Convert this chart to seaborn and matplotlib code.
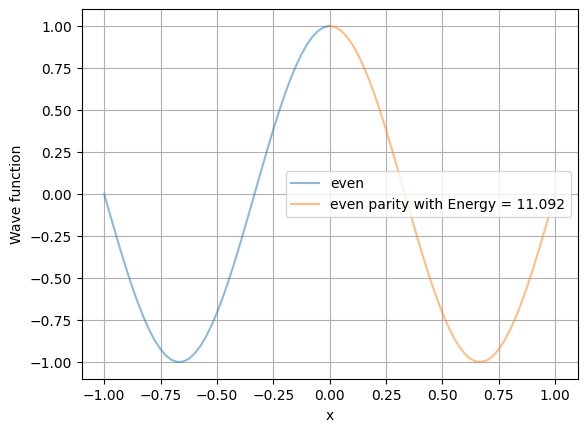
import numpy as np
import pandas as pd
import seaborn as sns
import matplotlib.pyplot as plt

# x grid for each half of the well
x_left = [-1.000, -0.975, -0.950, -0.925, -0.900, -0.875, -0.850, -0.825, -0.800, -0.775,
          -0.750, -0.725, -0.700, -0.675, -0.650, -0.625, -0.600, -0.575, -0.550, -0.525,
          -0.500, -0.475, -0.450, -0.425, -0.400, -0.375, -0.350, -0.325, -0.300, -0.275,
          -0.250, -0.225, -0.200, -0.175, -0.150, -0.125, -0.100, -0.075, -0.050, -0.025, 0.000]
x_right = [0.000, 0.025, 0.050, 0.075, 0.100, 0.125, 0.150, 0.175, 0.200, 0.225,
           0.250, 0.275, 0.300, 0.325, 0.350, 0.375, 0.400, 0.425, 0.450, 0.475,
           0.500, 0.525, 0.550, 0.575, 0.600, 0.625, 0.650, 0.675, 0.700, 0.725,
           0.750, 0.775, 0.800, 0.825, 0.850, 0.875, 0.900, 0.925, 0.950, 0.975, 1.000]

# wave function values
psi_left = [0.000, -0.118, -0.233, -0.346, -0.454, -0.556, -0.649, -0.734, -0.809, -0.873,
            -0.924, -0.963, -0.988, -0.999, -0.997, -0.981, -0.951, -0.908, -0.853, -0.785,
            -0.707, -0.619, -0.523, -0.419, -0.309, -0.195, -0.079, 0.039, 0.156, 0.271,
            0.383, 0.489, 0.588, 0.679, 0.760, 0.832, 0.891, 0.938, 0.972, 0.993, 1.000]
psi_right = [1.000, 0.993, 0.972, 0.938, 0.891, 0.832, 0.760, 0.679, 0.588, 0.489,
             0.383, 0.271, 0.156, 0.039, -0.079, -0.195, -0.309, -0.419, -0.523, -0.619,
             -0.707, -0.785, -0.853, -0.908, -0.951, -0.981, -0.997, -0.999, -0.988, -0.963,
             -0.924, -0.873, -0.809, -0.734, -0.649, -0.556, -0.454, -0.346, -0.233, -0.118, 0.000]

labels = ["even", "even parity with Energy = 11.092"]

fig, ax = plt.subplots(figsize=(6.4, 4.8))
sns.lineplot(x=x_left, y=psi_left, ax=ax, color="C0", alpha=0.5, label=labels[0])
sns.lineplot(x=x_right, y=psi_right, ax=ax, color="C1", alpha=0.5, label=labels[1])
ax.set_xlabel("x")
ax.set_ylabel("Wave function")
ax.set_xticks(np.arange(-1.0, 1.01, 0.25))
ax.grid(True)
ax.legend(loc="center right")
plt.savefig("out.png", bbox_inches="tight")
